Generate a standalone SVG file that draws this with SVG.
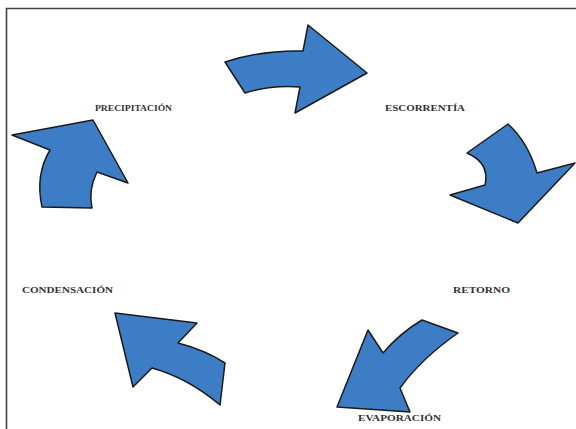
<svg xmlns="http://www.w3.org/2000/svg" width="576" height="429" viewBox="0 0 576 429">
  <style>
    .arrow { fill: #3d7dc6; stroke: #1a1a1a; stroke-width: 1.5; stroke-linejoin: round; }
    .label { font-family: "Liberation Serif", "DejaVu Serif", serif; font-weight: bold; font-size: 9px; fill: #333; }
    .frame { stroke: #444; stroke-width: 1.6; fill: none; }
  </style>
  <rect width="576" height="429" fill="#fff"/>
  <path class="frame" d="M6.5,429 L6.5,8.5 L576,8.5"/>

  <!-- cycle arrows -->
  <g id="connectors">
    <path class="arrow" d="M225,62 Q262,50 303,51 L308,25 L367,73 L295,113 L300,87 Q270,85 245,93 Z"/>
    <path class="arrow" d="M467,153 L508,124 Q528,142 537,173 L575,163 L518,223 L450,195 L485,185 Q490,163 467,153 Z"/>
    <path class="arrow" d="M422,320 L458,333 Q422,358 400,388 L410,412 L337,407 L368,330 L383,353 Q400,333 422,320 Z"/>
    <path class="arrow" d="M115,313 L197,323 L178,343 Q205,350 225,363 L220,405 Q188,378 152,368 L133,387 Z"/>
    <path class="arrow" d="M12,135 L93,120 L128,183 L97,172 Q88,190 92,208 L42,207 Q35,175 50,150 Z"/>
  </g>

  <g id="precipitacion"><text class="label" x="95" y="110.5" textLength="77" lengthAdjust="spacingAndGlyphs">PRECIPITACIÓN</text></g>
  <g id="escorrentia"><text class="label" x="385" y="110.5" textLength="80" lengthAdjust="spacingAndGlyphs">ESCORRENTÍA</text></g>
  <g id="retorno"><text class="label" x="453" y="293" textLength="57" lengthAdjust="spacingAndGlyphs">RETORNO</text></g>
  <g id="evaporacion"><text class="label" x="358" y="421" textLength="83" lengthAdjust="spacingAndGlyphs">EVAPORACIÓN</text></g>
  <g id="condensacion"><text class="label" x="22" y="293" textLength="91" lengthAdjust="spacingAndGlyphs">CONDENSACIÓN</text></g>
</svg>
